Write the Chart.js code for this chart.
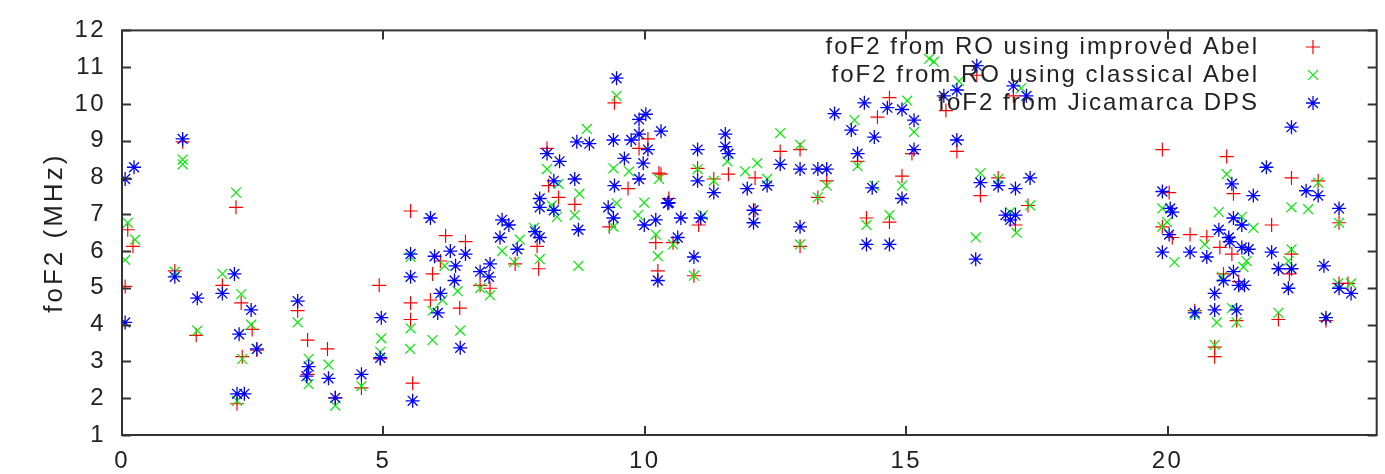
<!DOCTYPE html>
<html>
<head>
<meta charset="utf-8">
<script src="https://cdn.jsdelivr.net/npm/chart.js@4.4.1/dist/chart.umd.min.js"></script>
<style>
html,body{margin:0;padding:0;background:#fff;}
canvas{display:block;}
</style>
</head>
<body>
<canvas id="ctx" width="1385" height="474"></canvas>
<script>

// [hour, foF2 MHz]
var improvedAbel = [
  [0.11,6.58],[1.16,8.97],[2.18,7.19],[0.21,6.13],[0.06,5.04],[1.01,5.46],[1.42,3.71],[1.92,5.07],[2.28,4.59],[2.49,3.87],
  [2.30,3.13],[2.58,3.31],[2.20,1.85],[3.36,4.38],[3.55,3.58],[3.55,2.65],[3.93,3.34],[4.08,2.01],[4.58,2.28],[4.92,5.07],
  [4.94,3.07],[5.52,7.09],[6.19,6.42],[6.57,6.26],[5.52,4.59],[5.52,4.14],[5.56,2.41],[5.90,4.67],[5.94,5.38],[6.09,5.73],
  [6.46,4.45],[6.85,5.07],[7.04,4.99],[7.52,5.65],[7.97,5.52],[7.94,6.13],[9.32,6.66],[10.21,6.23],[10.25,5.46],[8.13,8.79],
  [8.35,7.46],[8.66,7.27],[8.16,7.78],[9.42,10.03],[9.68,7.70],[9.89,8.79],[10.06,9.05],[10.31,8.09],[10.46,7.43],[12.59,8.71],
  [12.97,8.76],[13.31,7.46],[13.48,7.91],[14.07,8.44],[14.92,8.04],[15.11,8.65],[14.68,6.79],[14.24,6.90],[12.11,7.99],[11.60,8.09],
  [11.01,8.25],[11.32,7.96],[11.03,6.71],[10.27,8.12],[12.11,7.11],[14.45,9.64],[14.68,10.17],[12.97,6.13],[10.94,5.33],[10.54,6.23],
  [16.35,10.78],[15.97,8.71],[16.42,7.51],[16.76,7.99],[17.09,6.71],[17.33,7.24],[17.05,10.22],[15.76,9.82],
  [19.90,8.76],[21.13,8.57],[22.37,7.99],[20.03,7.59],[21.26,7.56],[22.88,7.91],[21.99,6.71],[23.28,6.77],[20.43,6.45],[20.75,6.39],
  [19.90,6.66],[20.09,6.37],[21.00,6.10],[21.23,5.92],[21.07,5.38],[21.36,5.17],[22.33,5.38],[22.37,5.92],[22.12,4.14],[21.32,4.11],
  [20.90,3.13],[20.90,3.39],[23.03,4.11],[23.28,5.12],[23.45,5.12],[20.52,4.38]
];

var classicalAbel = [
  [0.11,6.77],[1.16,8.49],[1.16,8.36],[2.18,7.59],[0.06,5.76],[0.25,6.31],[1.01,5.44],[1.44,3.84],[1.92,5.38],[2.28,4.83],
  [2.47,4.00],[2.30,3.07],[2.58,3.34],[2.20,1.93],[3.36,4.06],[3.57,3.07],[3.57,2.38],[3.95,2.91],[4.08,1.80],[4.58,2.33],
  [4.96,3.63],[4.94,3.26],[9.46,10.22],[8.89,9.32],[8.13,8.23],[8.35,7.83],[8.75,7.56],[8.66,6.98],[9.40,8.25],[9.70,8.17],
  [10.27,7.96],[9.99,7.32],[9.87,6.98],[9.46,7.30],[9.40,6.66],[10.21,6.45],[8.22,7.24],[8.32,6.93],[7.88,6.63],[7.61,6.31],
  [5.52,5.84],[5.51,3.34],[5.52,3.90],[5.94,3.58],[6.47,3.84],[5.94,4.38],[6.13,4.67],[6.42,4.91],[6.17,5.60],[6.85,4.99],
  [7.04,4.80],[7.27,6.00],[7.50,5.70],[7.99,5.78],[8.73,5.60],[10.25,5.86],
  [12.59,9.21],[12.97,8.89],[11.92,8.17],[12.15,8.39],[11.58,8.44],[11.01,8.23],[11.32,7.91],[12.34,7.96],[13.48,7.78],[13.31,7.46],
  [14.39,7.78],[14.92,7.78],[14.68,6.98],[14.24,6.71],[11.11,6.98],[15.44,11.23],[14.07,8.31],[15.02,10.09],[14.01,9.56],[15.15,9.24],
  [12.97,6.18],[10.94,5.33],[10.54,6.18],
  [16.33,6.37],[16.42,8.12],[16.76,7.96],[17.11,6.50],[17.37,7.24],[16.99,7.06],[17.20,10.43],[15.53,11.15],[16.01,10.62],
  [21.13,8.09],[19.90,7.16],[19.99,6.79],[19.90,6.66],[20.98,7.06],[21.42,6.93],[21.64,6.63],[22.37,7.19],[22.69,7.14],[22.88,7.86],
  [23.28,6.77],[21.89,8.28],[20.13,5.70],[20.71,6.18],[21.45,5.57],[21.51,5.73],[22.37,6.05],[22.31,5.73],[23.26,5.12],[23.51,5.12],
  [20.94,4.06],[21.32,4.06],[21.23,4.45],[22.12,4.32],[20.90,3.45],[23.03,4.19],[20.52,4.27],[21.04,5.30]
];

var jicamarcaDPS = [
  [0.06,4.06],[0.06,7.96],[0.23,8.28],[1.16,9.05],[1.01,5.30],[1.44,4.72],[1.92,4.85],[2.15,5.38],[2.47,4.40],[2.24,3.74],
  [2.58,3.34],[2.20,2.12],[2.34,2.12],[3.36,4.64],[3.57,2.86],[3.53,2.60],[3.95,2.54],[4.08,2.01],[4.58,2.65],[4.96,4.19],
  [4.94,3.10],[5.90,6.90],[9.46,10.70],[10.02,9.72],[9.89,9.58],[10.31,9.26],[9.40,9.02],[9.61,8.52],[9.74,9.02],[9.89,9.18],
  [10.06,8.76],[9.97,8.39],[9.89,7.96],[9.42,7.78],[8.13,8.65],[8.37,8.44],[8.70,8.97],[8.94,8.92],[8.66,7.96],[8.26,7.91],
  [7.99,7.43],[7.99,7.19],[8.26,7.11],[8.73,6.58],[9.30,7.19],[9.40,6.90],[7.27,6.85],[7.40,6.71],[7.23,6.37],[7.90,6.53],
  [7.99,6.37],[9.99,6.71],[10.21,6.85],[10.44,7.30],[5.52,5.92],[5.52,5.30],[5.56,1.93],[5.98,5.86],[6.28,6.00],[6.57,5.92],
  [6.38,5.60],[6.36,5.20],[6.09,4.85],[6.04,4.32],[6.47,3.37],[6.85,5.44],[7.04,5.65],[7.02,5.30],[7.56,6.05],[10.25,5.20],
  [11.01,8.76],[11.54,9.18],[11.54,8.84],[11.60,8.65],[11.01,7.91],[11.32,7.59],[11.96,7.70],[12.34,7.78],[12.59,8.36],[12.97,8.23],
  [13.31,8.23],[13.48,8.23],[13.63,9.74],[14.20,10.03],[13.95,9.29],[14.39,9.10],[14.07,8.65],[14.35,7.72],[14.92,7.43],[15.15,8.76],
  [15.15,9.56],[14.64,9.90],[14.92,9.85],[10.46,7.32],[10.69,6.90],[11.07,6.90],[12.08,7.11],[12.08,6.77],[12.97,6.66],[14.24,6.18],
  [14.68,6.18],[10.63,6.37],[10.94,5.84],
  [16.35,11.04],[15.97,10.38],[15.72,10.22],[17.05,10.49],[17.30,10.22],[15.97,9.02],[16.42,7.86],[16.76,7.78],[17.09,7.70],[17.37,7.99],
  [16.90,6.98],[17.09,6.98],[16.99,6.85],[16.33,5.78],
  [22.37,9.37],[21.89,8.28],[19.90,7.62],[20.05,7.16],[20.09,7.06],[21.23,7.83],[21.64,7.51],[22.65,7.64],[22.88,7.51],[23.28,7.16],
  [21.26,6.90],[20.98,6.58],[20.03,6.45],[21.19,6.26],[21.42,6.71],[19.90,5.97],[20.43,5.97],[20.75,5.84],[21.17,6.37],[21.42,6.10],
  [21.55,6.05],[21.99,5.97],[22.12,5.52],[22.37,5.52],[22.99,5.60],[21.07,5.20],[21.26,5.44],[21.36,5.07],[21.47,5.07],[20.90,4.85],
  [20.52,4.32],[20.90,4.40],[21.32,4.40],[22.31,4.99],[23.28,4.99],[23.51,4.85],[23.03,4.19]
];

var seriesLabels = ['foF2 from RO using improved Abel', 'foF2 from RO using classical Abel', 'foF2 from Jicamarca DPS'];
var xTicks = [0, 5, 10, 15, 20];
var yTicks = [1, 2, 3, 4, 5, 6, 7, 8, 9, 10, 11, 12];

var FONT = 'Liberation Sans, Arial, sans-serif';

function toXY(arr){
  return arr.map(function(p){ return {x: p[0], y: p[1]}; });
}

var styles = [
  {color: 'rgb(255,0,0)', shape: 'cross', width: 1.2},
  {color: 'rgb(0,238,0)', shape: 'crossRot', width: 1.2},
  {color: 'rgb(0,0,255)', shape: 'star', width: 1.3}
];

// frame, inward ticks and the key, gnuplot style
var gnuFrame = {
  id: 'gnuFrame',
  beforeDraw: function(chart){
    chart.ctx.letterSpacing = '2.4px';
  },
  afterDraw: function(chart){
    var c = chart.ctx, a = chart.chartArea;
    var xs = chart.scales.x, ys = chart.scales.y;
    c.save();
    c.strokeStyle = '#333';
    c.lineWidth = 2;
    c.strokeRect(a.left, a.top, a.right - a.left, a.bottom - a.top);
    c.beginPath();
    yTicks.forEach(function(v){
      var py = Math.round(ys.getPixelForValue(v)) + 0.5;
      c.moveTo(a.left, py); c.lineTo(a.left + 9, py);
      c.moveTo(a.right, py); c.lineTo(a.right - 9, py);
    });
    xTicks.forEach(function(v){
      var px = Math.round(xs.getPixelForValue(v));
      c.moveTo(px, a.bottom); c.lineTo(px, a.bottom - 9);
      c.moveTo(px, a.top); c.lineTo(px, a.top + 9);
    });
    c.stroke();

    // key
    c.letterSpacing = '2px';
    c.font = '24px ' + FONT;
    c.fillStyle = '#222';
    c.textAlign = 'right';
    c.textBaseline = 'middle';
    var rows = [47, 75, 103];
    chart.data.datasets.forEach(function(ds, i){
      c.fillText(ds.label, 1259, rows[i]);
      c.strokeStyle = styles[i].color;
      c.lineWidth = styles[i].width;
      Chart.helpers.drawPoint(c, {pointStyle: styles[i].shape, radius: 7, borderWidth: styles[i].width, rotation: 0}, 1313, rows[i]);
    });
    c.restore();

    // y label
    c.save();
    c.letterSpacing = '3px';
    c.font = '26px ' + FONT;
    c.fillStyle = '#222';
    c.textAlign = 'center';
    c.textBaseline = 'middle';
    c.translate(55, (a.top + a.bottom) / 2);
    c.rotate(-Math.PI / 2);
    c.fillText('foF2 (MHz)', 0, 0);
    c.restore();
  }
};

var scatterChart = new Chart(document.getElementById('ctx'), {
  type: 'scatter',
  data: {
    datasets: [improvedAbel, classicalAbel, jicamarcaDPS].map(function(arr, i){
      return {
        label: seriesLabels[i],
        data: toXY(arr),
        pointStyle: styles[i].shape,
        pointRadius: 7,
        pointHoverRadius: 7,
        borderColor: styles[i].color,
        backgroundColor: styles[i].color,
        pointBorderWidth: styles[i].width,
        order: 3 - i
      };
    })
  },
  options: {
    responsive: false,
    animation: false,
    devicePixelRatio: 1,
    layout: {padding: {top: 21, right: 2, left: 0, bottom: 0}},
    plugins: {legend: {display: false}, tooltip: {enabled: false}},
    scales: {
      x: {
        type: 'linear',
        min: 0, max: 24,
        grid: {display: false, drawTicks: false},
        border: {display: false},
        afterBuildTicks: function(s){ s.ticks = xTicks.map(function(v){ return {value: v}; }); },
        afterFit: function(s){ s.height = 39; },
        ticks: {font: {size: 24, family: FONT}, color: '#222', padding: 12, maxRotation: 0}
      },
      y: {
        type: 'linear',
        min: 1, max: 12,
        grid: {display: false, drawTicks: false},
        border: {display: false},
        afterBuildTicks: function(s){ s.ticks = yTicks.map(function(v){ return {value: v}; }); },
        afterFit: function(s){ s.width = 122; },
        ticks: {font: {size: 24, family: FONT}, color: '#222', padding: 16}
      }
    }
  },
  plugins: [gnuFrame]
});

</script>
</body>
</html>
